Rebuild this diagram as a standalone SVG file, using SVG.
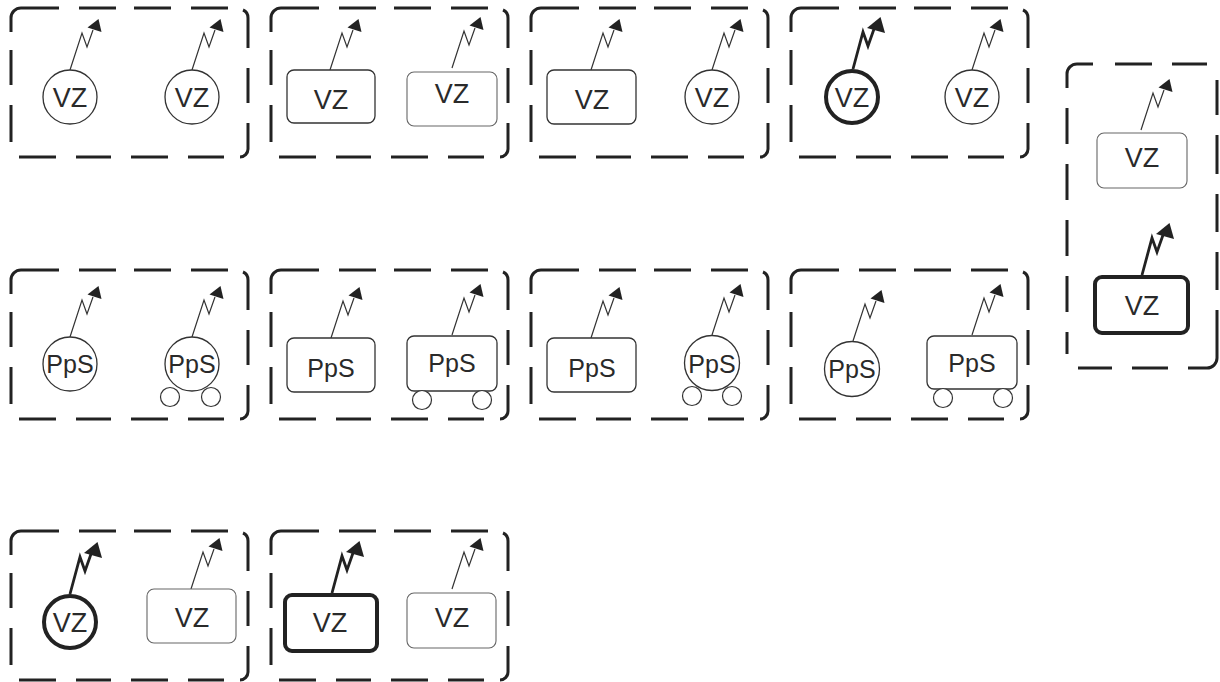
<svg xmlns="http://www.w3.org/2000/svg" xmlns:xlink="http://www.w3.org/1999/xlink" width="1220" height="682" viewBox="0 0 1220 682">
<style>
.fr{fill:none;stroke:#222;stroke-width:3}
.n{fill:#fff;stroke:#333;stroke-width:1.3}
.nl{fill:#fff;stroke:#666;stroke-width:1.1}
.nb{fill:#fff;stroke:#222;stroke-width:4}
.w{fill:#fff;stroke:#333;stroke-width:1.2}
.t{font-family:"Liberation Sans",Arial,sans-serif;font-size:27px;fill:#2a2a2a;text-anchor:middle}
.p{font-family:"Liberation Sans",Arial,sans-serif;font-size:25px;fill:#2a2a2a;text-anchor:middle}
.al{fill:none;stroke:#333;stroke-width:1.2;stroke-linejoin:miter}
.ab{fill:none;stroke:#222;stroke-width:2.8;stroke-linejoin:miter}
.ah{fill:#222;stroke:none}
</style>
<defs>
<g id="frame">
<path class="fr" d="M0 24V10A10 10 0 0 1 10 0H48M68 0H105M123 0H160M180 0H217M232 2Q237 4 237 10V40M237 60V95M237 115V141A8 8 0 0 1 229 149M8 149H45M65 149H100M120 149H157M177 149H213M0 42V77M0 97V134"/>
</g>
<g id="ant">
<path class="al" d="M0 0L12 -37L17 -23L23 -40"/>
<polygon class="ah" points="28.5,-51 17.5,-42.5 31.5,-38"/>
</g>
<g id="antB">
<path class="ab" d="M0 0L10 -37L15 -23L21 -40"/>
<polygon class="ah" points="27.5,-52 14,-41 32,-36"/>
</g>
</defs>

<g id="frames">
<use href="#frame" x="11" y="8"/>
<use href="#frame" x="271" y="8"/>
<use href="#frame" x="531" y="8"/>
<use href="#frame" x="791" y="8"/>
<use href="#frame" x="11" y="270"/>
<use href="#frame" x="271" y="270"/>
<use href="#frame" x="531" y="270"/>
<use href="#frame" x="791" y="270"/>
<use href="#frame" x="11" y="531"/>
<use href="#frame" x="271" y="531"/>
<path id="frame-right" class="fr" transform="translate(1067,64)" d="M0 24V10A10 10 0 0 1 10 0H26M48 0H85M105 0H140M150 16V51M150 71V110M150 130V168M150 188V226M150 246V294A10 10 0 0 1 140 304H121M101 304H65M45 304H11M0 44V80M0 100V136M0 156V192M0 212V248M0 268V290"/>
</g>

<g id="connectors">
<use href="#ant" x="70" y="70"/>
<use href="#ant" x="192" y="70"/>
<use href="#ant" x="330" y="70"/>
<use href="#ant" x="452" y="68"/>
<use href="#ant" x="591" y="70"/>
<use href="#ant" x="712" y="70"/>
<use href="#antB" x="853" y="69"/>
<use href="#ant" x="972" y="70"/>
<use href="#ant" x="1141" y="130"/>
<use href="#antB" x="1142" y="275"/>
<use href="#ant" x="70" y="337"/>
<use href="#ant" x="192" y="337"/>
<use href="#ant" x="331" y="338"/>
<use href="#ant" x="452" y="335"/>
<use href="#ant" x="591" y="338"/>
<use href="#ant" x="712" y="335"/>
<use href="#ant" x="853" y="341"/>
<use href="#ant" x="972" y="335"/>
<use href="#antB" x="70" y="594"/>
<use href="#ant" x="191" y="589"/>
<use href="#antB" x="332" y="593"/>
<use href="#ant" x="452" y="589"/>
</g>

<g id="n1a"><circle class="n" cx="70" cy="97" r="27"/><text class="t" x="70" y="107">VZ</text></g>
<g id="n1b"><circle class="n" cx="192" cy="97" r="27"/><text class="t" x="192" y="107">VZ</text></g>
<g id="n2a"><rect class="n" x="287" y="70" width="88" height="53" rx="7"/><text class="t" x="331" y="109">VZ</text></g>
<g id="n2b"><rect class="nl" x="407" y="72" width="90" height="54" rx="7"/><text class="t" x="452" y="103">VZ</text></g>
<g id="n3a"><rect class="n" x="547" y="70" width="89" height="54" rx="7"/><text class="t" x="592" y="109">VZ</text></g>
<g id="n3b"><circle class="n" cx="712" cy="97" r="27"/><text class="t" x="712" y="107">VZ</text></g>
<g id="n4a"><circle class="nb" cx="852" cy="97" r="26"/><text class="t" x="852" y="107">VZ</text></g>
<g id="n4b"><circle class="n" cx="972" cy="97" r="27"/><text class="t" x="972" y="107">VZ</text></g>
<g id="n5a"><rect class="nl" x="1097" y="133" width="90" height="55" rx="7"/><text class="t" x="1142" y="167">VZ</text></g>
<g id="n5b"><rect class="nb" x="1095" y="277" width="93" height="56" rx="7"/><text class="t" x="1142" y="315">VZ</text></g>

<g id="p1a"><circle class="n" cx="70" cy="364" r="27"/><text class="p" x="70" y="373">PpS</text></g>
<g id="p1b"><circle class="n" cx="192" cy="364" r="27"/><circle class="w" cx="170" cy="397" r="9.5"/><circle class="w" cx="211" cy="397" r="9.5"/><text class="p" x="192" y="373">PpS</text></g>
<g id="p2a"><rect class="n" x="287" y="338" width="88" height="54" rx="7"/><text class="p" x="331" y="377">PpS</text></g>
<g id="p2b"><rect class="n" x="407" y="336" width="90" height="55" rx="7"/><circle class="w" cx="422" cy="400" r="9.5"/><circle class="w" cx="482" cy="400" r="9.5"/><text class="p" x="452" y="372">PpS</text></g>
<g id="p3a"><rect class="n" x="547" y="338" width="89" height="54" rx="7"/><text class="p" x="592" y="377">PpS</text></g>
<g id="p3b"><circle class="n" cx="712" cy="363" r="27.5"/><circle class="w" cx="692" cy="396" r="9.5"/><circle class="w" cx="732" cy="396" r="9.5"/><text class="p" x="712" y="373">PpS</text></g>
<g id="p4a"><circle class="n" cx="852" cy="369" r="27.5"/><text class="p" x="852" y="378">PpS</text></g>
<g id="p4b"><rect class="n" x="927" y="336" width="90" height="53" rx="7"/><circle class="w" cx="943" cy="398" r="9.5"/><circle class="w" cx="1003" cy="398" r="9.5"/><text class="p" x="972" y="372">PpS</text></g>

<g id="v1a"><circle class="nb" cx="70" cy="622" r="26"/><text class="t" x="70" y="632">VZ</text></g>
<g id="v1b"><rect class="nl" x="147" y="589" width="89" height="54" rx="7"/><text class="t" x="192" y="627">VZ</text></g>
<g id="v2a"><rect class="nb" x="285" y="595" width="92" height="56" rx="7"/><text class="t" x="330" y="632">VZ</text></g>
<g id="v2b"><rect class="nl" x="407" y="593" width="89" height="55" rx="7"/><text class="t" x="452" y="627">VZ</text></g>
</svg>
